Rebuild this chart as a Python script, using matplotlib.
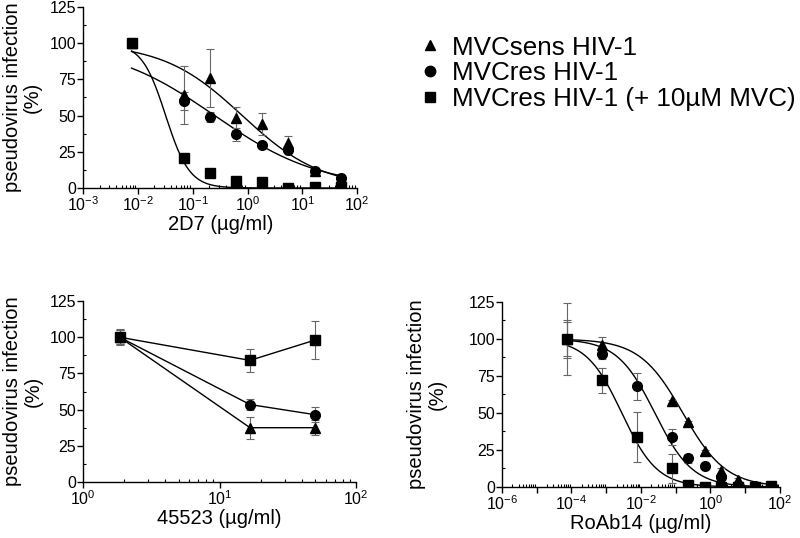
import numpy as np
import matplotlib
matplotlib.use("Agg")
import matplotlib.pyplot as plt
from matplotlib.ticker import LogLocator, FixedLocator, NullFormatter, MultipleLocator
from matplotlib.lines import Line2D

plt.rcParams['font.family'] = ['Liberation Sans', 'DejaVu Sans']
plt.rcParams['mathtext.fontset'] = 'custom'
plt.rcParams['mathtext.rm'] = 'Liberation Sans'
plt.rcParams['mathtext.it'] = 'Liberation Sans'

series_names = ["MVCsens HIV-1", "MVCres HIV-1", "MVCres HIV-1 (+ 10\u00b5M MVC)"]
markers = ["^", "o", "s"]

# ---- 2D7 ----
d7_x = [0.00762, 0.0686, 0.206, 0.617, 1.85, 5.56, 16.7, 50.0]
d7_tri = [100, 64, 76, 48, 44, 31, 12, 7]
d7_tri_err = [3, 20, 20, 8, 7.5, 5, 1, 1]
d7_cir = [100, 60, 49, 37, 29.5, 26.5, 12, 7]
d7_cir_err = [3, 6, 3.5, 4.5, 1, 2, 1, 1]
d7_sq = [100, 21, 10, 4.5, 4, 0, 0.5, 0.5]
d7_sq_err = [3.5, 1, 1, 1, 1, 0.5, 0.5, 0.5]
# 4PL fit parameters (top, bottom, IC50, hill)
d7_fit = [(100, 0, 0.8, 0.6), (100, 0, 0.25, 0.45), (100, 0, 0.032, 2.0)]

# ---- 45523 ----
c45_x = [1.85, 16.7, 50.0]
c45_tri = [100, 37.5, 37.5]
c45_tri_err = [5, 7.5, 5]
c45_cir = [100, 53.5, 46.5]
c45_cir_err = [5, 3.5, 5]
c45_sq = [100, 84, 98]
c45_sq_err = [5.5, 8, 13]

# ---- RoAb14 ----
ro_x = [7.62e-5, 7.62e-4, 7.62e-3, 0.0762, 0.229, 0.686, 2.06, 6.17, 18.5, 55.6]
ro_tri_x = [7.62e-5, 7.62e-4, 0.0762, 0.229, 0.686, 2.06, 6.17, 18.5, 55.6]
ro_tri = [100, 95.6, 58, 43.7, 24, 11, 5, 1, 1]
ro_tri_err = [11.5, 5.5, 1, 1, 1, 1.5, 1, 0.5, 0.5]
ro_cir = [100, 89.6, 67.9, 33.8, 19.5, 14, 6.7, 1, 0.5, 0.5]
ro_cir_err = [13, 3, 9, 5.5, 3, 1, 1, 0.5, 0.5, 0.5]
ro_sq = [100, 72, 34, 12.5, 1.5, 0, 0, 0, 0, 0.5]
ro_sq_err = [24, 8.5, 17, 9.5, 1, 0.5, 0.5, 0.5, 0.5, 0.5]
ro_fit = [(100, 0, 0.16, 0.7), (100, 0, 0.025, 0.8), (100, 0, 0.0028, 0.85)]


def fourpl(x, p):
    top, bottom, ic50, h = p
    return bottom + (top - bottom) / (1 + (x / ic50) ** h)


fig = plt.figure(figsize=(8, 5.38), dpi=100)

ax1 = fig.add_axes([0.104, 0.6506, 0.3425, 0.3364])
ax2 = fig.add_axes([0.104, 0.1041, 0.341, 0.3364])
ax3 = fig.add_axes([0.6275, 0.0948, 0.3475, 0.3439])

ERRC = '#666666'
MS = 7


def style(ax, xlim, xlabel, major_exps, label_exps, label_x):
    ax.set_xscale('log')
    ax.set_xlim(*xlim)
    ax.set_ylim(0, 125)
    for s in ['top', 'right']:
        ax.spines[s].set_visible(False)
    for s in ['left', 'bottom']:
        ax.spines[s].set_linewidth(1.0)
    ax.yaxis.set_major_locator(MultipleLocator(25))
    ax.yaxis.set_minor_locator(MultipleLocator(12.5))
    ax.xaxis.set_major_locator(FixedLocator([10.0 ** e for e in major_exps]))
    ax.xaxis.set_major_formatter(matplotlib.ticker.FuncFormatter(
        lambda v, pos: ('$\\mathdefault{10^{%d}}$' % int(round(np.log10(v))))
        if int(round(np.log10(v))) in label_exps else ''))
    ax.xaxis.set_minor_locator(LogLocator(base=10, subs=np.arange(2, 10), numticks=100))
    ax.xaxis.set_minor_formatter(NullFormatter())
    ax.tick_params(which='major', direction='out', length=4, width=1, labelsize=11.5, pad=1)
    ax.tick_params(which='minor', direction='in', length=2.5, width=0.8)
    ax.set_ylabel('pseudovirus infection\n(%)', fontsize=14.5, linespacing=1.1)
    ax.yaxis.set_label_coords(label_x, 0.5)
    ax.set_xlabel(xlabel, fontsize=14.5, labelpad=1)


def draw_points(ax, x, y, err, m, line=False):
    ax.errorbar(x, y, yerr=err, fmt='none', ecolor=ERRC, elinewidth=0.8, capsize=3, capthick=0.8, zorder=2)
    ax.plot(x, y, linestyle='-' if line else 'none', color='black', lw=1.0,
            marker=m, markersize=MS, markerfacecolor='black', markeredgecolor='black', zorder=3)


# Top-left 2D7
xs = np.logspace(np.log10(d7_x[0]), np.log10(d7_x[-1]), 300)
for p in d7_fit:
    ax1.plot(xs, fourpl(xs, p), color='black', lw=1.0, zorder=1)
draw_points(ax1, d7_x, d7_tri, d7_tri_err, '^')
draw_points(ax1, d7_x, d7_cir, d7_cir_err, 'o')
draw_points(ax1, d7_x, d7_sq, d7_sq_err, 's')
style(ax1, (1e-3, 1e2), '2D7 (\u00b5g/ml)', [-3, -2, -1, 0, 1, 2], [-3, -2, -1, 0, 1, 2], -0.15)

# Bottom-left 45523
draw_points(ax2, c45_x, c45_tri, c45_tri_err, '^', line=True)
draw_points(ax2, c45_x, c45_cir, c45_cir_err, 'o', line=True)
draw_points(ax2, c45_x, c45_sq, c45_sq_err, 's', line=True)
style(ax2, (1e0, 1e2), '45523 (\u00b5g/ml)', [0, 1, 2], [0, 1, 2], -0.15)

# Bottom-right RoAb14
xs = np.logspace(np.log10(ro_x[0]), np.log10(ro_x[-1]), 300)
for p in ro_fit:
    ax3.plot(xs, fourpl(xs, p), color='black', lw=1.0, zorder=1)
draw_points(ax3, ro_tri_x, ro_tri, ro_tri_err, '^')
draw_points(ax3, ro_x, ro_cir, ro_cir_err, 'o')
draw_points(ax3, ro_x, ro_sq, ro_sq_err, 's')
style(ax3, (1e-6, 1e2), 'RoAb14 (\u00b5g/ml)', list(range(-6, 3)), [-6, -4, -2, 0, 2], -0.198)

# Legend
handles = [Line2D([], [], linestyle='none', marker=m, color='black', markersize=ms)
           for m, ms in zip(markers, [6.5, 7.5, 7])]
fig.legend(handles, series_names, loc='upper left', bbox_to_anchor=(0.526, 0.934),
           frameon=False, fontsize=18.7, handlelength=0.7, handletextpad=0.5,
           labelspacing=0.07, borderaxespad=0, borderpad=0)

fig.savefig('out.png', dpi=100)
